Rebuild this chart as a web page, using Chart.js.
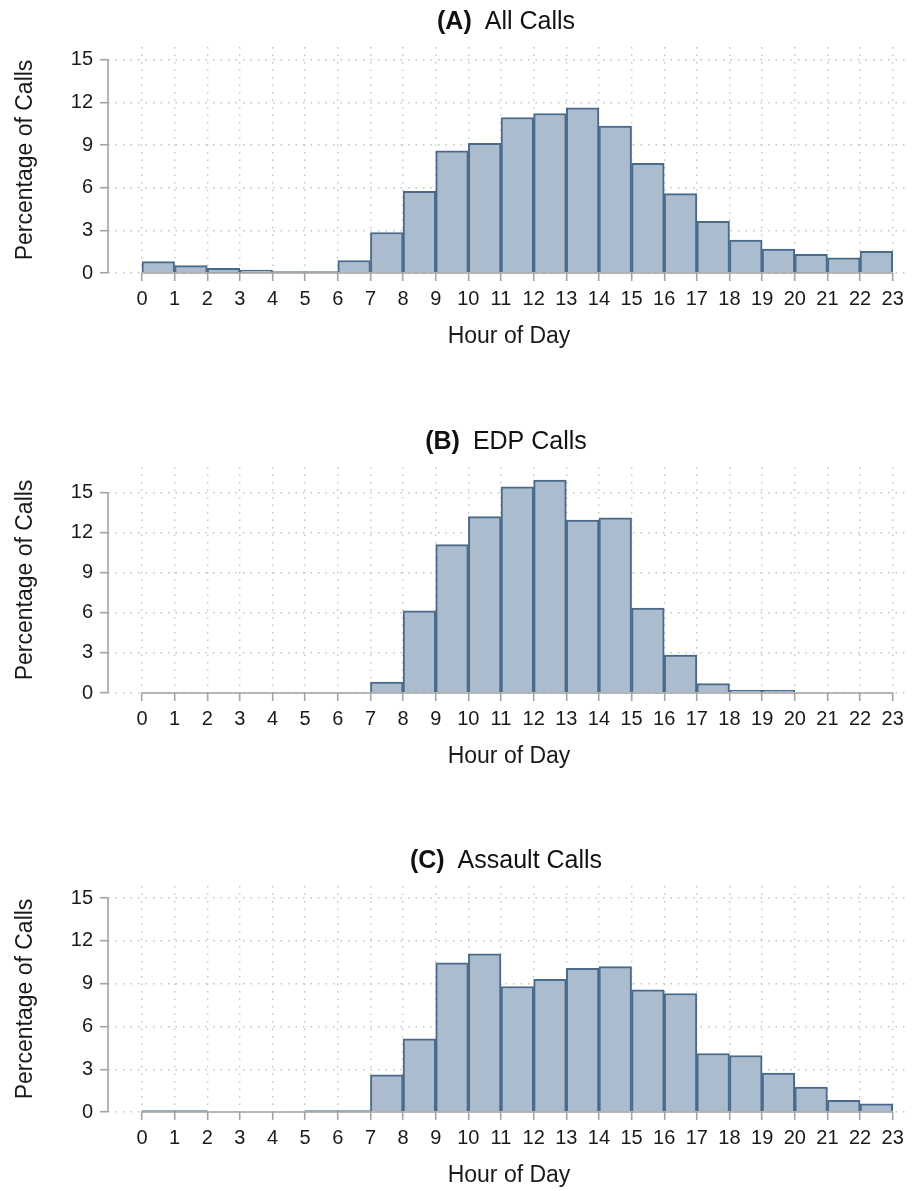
<!DOCTYPE html>
<html>
<head>
  <title>Calls by Hour of Day</title>
  <script src="https://cdn.jsdelivr.net/npm/chart.js"></script>
  <style>
    body {
      margin: 0;
      padding: 0;
      background: #fff;
    }

    .panel {
      position: absolute;
      left: 0;
      width: 915px;
      height: 352px;
    }
  </style>
</head>
<body>

  <div class="panel" style="top:0px"><canvas id="chartA" width="915" height="352"></canvas></div>
  <div class="panel" style="top:420px"><canvas id="chartB" width="915" height="352"></canvas></div>
  <div class="panel" style="top:839px"><canvas id="chartC" width="915" height="352"></canvas></div>

  <script>
    // tick labels
    const hours = [0, 1, 2, 3, 4, 5, 6, 7, 8, 9, 10, 11, 12, 13, 14, 15, 16, 17, 18, 19, 20, 21, 22, 23];
    const yTicks = [0, 3, 6, 9, 12, 15];

    // histogram bins start at each hour (0-1, 1-2 ... 22-23)
    const bins = [0, 1, 2, 3, 4, 5, 6, 7, 8, 9, 10, 11, 12, 13, 14, 15, 16, 17, 18, 19, 20, 21, 22];

    // percentage of calls per bin (null = empty bin)
    const allCalls = [0.8, 0.52, 0.33, 0.2, 0.1, 0.1, 0.88, 2.85, 5.75, 8.6, 9.13, 10.94,
                      11.22, 11.62, 10.33, 7.72, 5.58, 3.64, 2.32, 1.69, 1.31, 1.06, 1.53];
    const edpCalls = [null, null, null, null, null, null, null, 0.82, 6.15, 11.1, 13.19, 15.41,
                      15.93, 12.94, 13.09, 6.35, 2.84, 0.7, 0.2, 0.2, null, null, null];
    const assaultCalls = [0.1, 0.1, null, null, null, 0.1, 0.1, 2.61, 5.13, 10.46, 11.09, 8.8,
                          9.31, 10.08, 10.2, 8.56, 8.31, 4.1, 3.96, 2.73, 1.75, 0.81, 0.58];

    Chart.defaults.font.family = '"Liberation Sans", Arial, Helvetica, sans-serif';
    Chart.defaults.color = '#1a1a1a';

    const axisGray = '#a3a3a3';
    const dotGray = '#c4c4c4';

    // solid axis lines only over 0-23 and 0-15, like the original
    const axisLines = {
      id: 'axisLines',
      afterDatasetsDraw(chart) {
        const { ctx, chartArea, scales: { x, y } } = chart;
        const y0 = y.getPixelForValue(0);
        ctx.save();
        ctx.strokeStyle = axisGray;
        ctx.lineWidth = 1.6;
        ctx.beginPath();
        ctx.moveTo(chartArea.left, y.getPixelForValue(yTicks[yTicks.length - 1]));
        ctx.lineTo(chartArea.left, y0);
        ctx.moveTo(x.getPixelForValue(hours[0]), y0);
        ctx.lineTo(x.getPixelForValue(hours[hours.length - 1]), y0);
        ctx.stroke();
        ctx.restore();
      }
    };

    // "(A)" bold + name regular
    const panelTitle = {
      id: 'panelTitle',
      afterDraw(chart, args, opts) {
        const { ctx, chartArea } = chart;
        const family = Chart.defaults.font.family;
        ctx.save();
        ctx.fillStyle = '#111';
        ctx.textBaseline = 'middle';
        ctx.font = 'bold 25px ' + family;
        const w1 = ctx.measureText(opts.tag).width;
        ctx.font = '25px ' + family;
        const w2 = ctx.measureText(opts.text).width;
        const gap = 13;
        let left = (chartArea.left + chartArea.right) / 2 - (w1 + gap + w2) / 2 - 3;
        ctx.textAlign = 'left';
        ctx.font = 'bold 25px ' + family;
        ctx.fillText(opts.tag, left, 22);
        ctx.font = '25px ' + family;
        ctx.fillText(opts.text, left + w1 + gap, 22);
        ctx.restore();
      }
    };

    function makeChart(id, tag, name, values, yMax) {
      const ctx = document.getElementById(id).getContext('2d');
      return new Chart(ctx, {
        type: 'bar',
        data: {
          datasets: [{
            data: bins.map((b, i) => ({ x: b + 0.5, y: values[i] })),
            backgroundColor: '#aabccd',
            borderColor: '#4a6a8b',
            borderWidth: 2,
            barPercentage: 1,
            categoryPercentage: 1
          }]
        },
        options: {
          responsive: false,
          animation: false,
          layout: { padding: { top: 47, right: 5, bottom: 0, left: 0 } },
          plugins: {
            legend: { display: false },
            tooltip: { enabled: false },
            panelTitle: { tag: tag, text: name }
          },
          scales: {
            x: {
              type: 'linear',
              min: -1.04,
              max: 23.53,
              offset: false,
              afterBuildTicks: s => { s.ticks = hours.map(v => ({ value: v })); },
              afterFit: s => { s.height = 79; },
              grid: {
                offset: false,
                color: dotGray,
                lineWidth: 1.4,
                tickColor: axisGray,
                tickWidth: 1.6,
                tickLength: 8
              },
              border: { display: false, dash: [1.5, 6] },
              ticks: { font: { size: 20 }, padding: 6, autoSkip: false, maxRotation: 0 },
              title: {
                display: true,
                text: 'Hour of Day',
                font: { size: 23 },
                padding: { top: 0, bottom: 2 }
              }
            },
            y: {
              min: 0,
              max: yMax,
              afterBuildTicks: s => { s.ticks = yTicks.map(v => ({ value: v })); },
              afterFit: s => { s.width = 108; },
              grid: {
                color: dotGray,
                lineWidth: 1.4,
                tickColor: axisGray,
                tickWidth: 1.6,
                tickLength: 8
              },
              border: { display: false, dash: [1.5, 6] },
              ticks: { font: { size: 20 }, padding: 7 },
              title: {
                display: true,
                text: 'Percentage of Calls',
                font: { size: 23 },
                padding: { top: 12, bottom: 0 }
              }
            }
          }
        },
        plugins: [axisLines, panelTitle]
      });
    }

    makeChart('chartA', '(A)', 'All Calls', allCalls, 15.9);
    makeChart('chartB', '(B)', 'EDP Calls', edpCalls, 16.9);
    makeChart('chartC', '(C)', 'Assault Calls', assaultCalls, 15.85);
  </script>

</body>
</html>
